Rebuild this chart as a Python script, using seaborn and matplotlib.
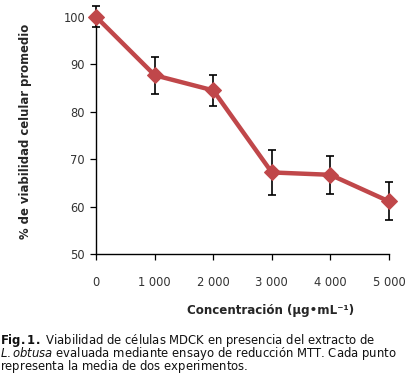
import matplotlib
matplotlib.use("Agg")
import matplotlib.pyplot as plt
import seaborn as sns
import pandas as pd

# values
concentracion = [0, 1000, 2000, 3000, 4000, 5000]
viabilidad = [100.0, 87.7, 84.5, 67.2, 66.7, 61.1]
error = [2.2, 3.9, 3.2, 4.8, 4.0, 4.0]
x_labels = ["0", "1 000", "2 000", "3 000", "4 000", "5 000"]

df = pd.DataFrame({"conc": concentracion, "viab": viabilidad, "err": error})

sns.set_style("white")
plt.rcParams["font.family"] = ["DejaVu Sans"]
plt.rcParams["mathtext.fontset"] = "dejavusans"

fig = plt.figure(figsize=(4.2, 3.76), dpi=100)
ax = fig.add_axes([0.229, 0.3245, 0.697, 0.6305])

red = "#c0474a"
ax.errorbar(df.conc, df.viab, yerr=df.err, fmt="none", ecolor="black",
            elinewidth=1.2, capsize=3, capthick=1.2, zorder=2, clip_on=False)
sns.lineplot(data=df, x="conc", y="viab", ax=ax, color=red, linewidth=3.2,
             marker="D", markersize=8, markeredgecolor=red, zorder=3,
             clip_on=False)

ax.set_xlim(0, 5000)
ax.set_ylim(50, 100)
ax.set_xticks(concentracion)
ax.set_xticklabels(x_labels)
ax.set_yticks([50, 60, 70, 80, 90, 100])
ax.tick_params(axis="both", which="both", direction="out", length=4, width=0.9,
               color="black", labelsize=8.3, labelcolor="#333333",
               bottom=True, left=True)
ax.tick_params(axis="x", pad=12)
ax.tick_params(axis="y", pad=4)
for s in ["top", "right"]:
    ax.spines[s].set_visible(False)
for s in ["left", "bottom"]:
    ax.spines[s].set_color("black")
    ax.spines[s].set_linewidth(1.0)

ax.set_xlabel("")
ax.set_ylabel("")
fig.text(0.06, 0.65, "% de viabilidad celular promedio", rotation=90,
         ha="center", va="center", fontsize=8.4, fontweight="bold")
fig.text(0.645, 0.173, "Concentración (µg•mL⁻¹)", ha="center", va="center",
         fontsize=8.6, fontweight="bold")

# caption as one block, bold / italic parts via mathtext so all lines get the same height
caption = ("$\\mathbf{Fig.1.}$ Viabilidad de células MDCK en presencia del extracto de\n"
           "$\\mathit{L.obtusa}$ evaluada mediante ensayo de reducción MTT. Cada punto\n"
           "$\\mathrm{representa}$ la media de dos experimentos.")
fig.text(0.0, 0.059, caption, fontsize=8.4, va="center", ha="left",
         linespacing=0.66, color="#111111")

fig.savefig("out.png", dpi=100)
